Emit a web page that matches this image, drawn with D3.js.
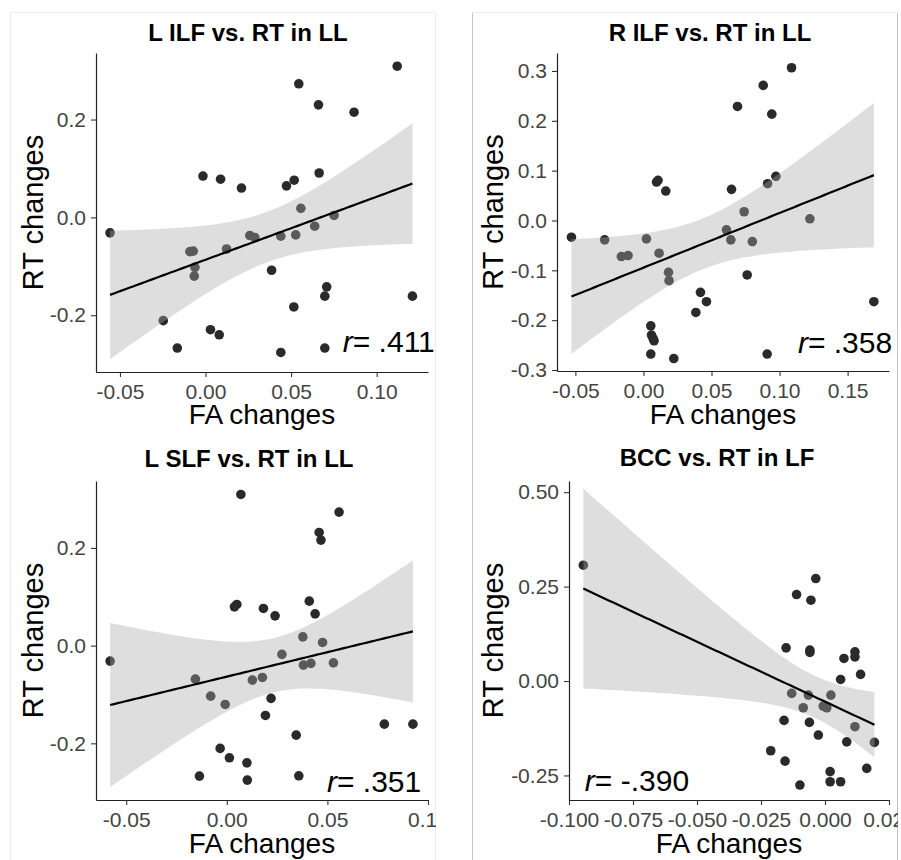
<!DOCTYPE html>
<html lang="en">
<head>
<meta charset="UTF-8">
<title>FA changes vs RT changes</title>
<script src="https://d3js.org/d3.v7.min.js"></script>
<style>
  body { margin: 0; background: #fff; }
  text { font-family: "Liberation Sans", Arial, Helvetica, sans-serif; }
</style>
</head>
<body>
<script>
// ---- data ----
var titles = ["L ILF vs. RT in LL", "R ILF vs. RT in LL", "L SLF vs. RT in LL", "BCC vs. RT in LF"];
var rLabels = ["= .411", "= .358", "= .351", "= -.390"];

// L ILF / LL
var tlFA = [0.112, 0.0545, 0.066, 0.0868, -0.0015, 0.0088, 0.021, 0.0473, 0.0518, 0.0664, 0.0557,
            0.0751, -0.0558, -0.0091, -0.0072, -0.0062, -0.0066, 0.0123, 0.0259, 0.0288, 0.044, 0.0527,
            0.0638, 0.0386, 0.0708, 0.0697, 0.1209, 0.0516, -0.0247, 0.0029, 0.008, -0.0165, 0.044, 0.0697];
var tlRT = [0.309, 0.273, 0.230, 0.215, 0.0845, 0.078, 0.060, 0.0645, 0.076, 0.0907, 0.0186,
            0.004, -0.0316, -0.070, -0.069, -0.102, -0.120, -0.0646, -0.037, -0.041, -0.0385, -0.0357,
            -0.018, -0.108, -0.142, -0.161, -0.161, -0.183, -0.211, -0.2296, -0.240, -0.267, -0.276, -0.267];

// R ILF / LL
var trFA = [0.1088, 0.0880, 0.0691, 0.0943, 0.0096, 0.0107, 0.0164, 0.0647, 0.0912, 0.0973, 0.074, 0.1223,
            -0.0529, -0.0285, -0.0162, -0.0113, 0.0022, 0.0115, 0.0184, 0.0188, 0.061, 0.0642, 0.080,
            0.0762, 0.0419, 0.0463, 0.0385, 0.1693, 0.0054, 0.0059, 0.0071, 0.0078, 0.0054, 0.0223, 0.0909];
var trRT = [0.3064, 0.271, 0.2288, 0.2133, 0.0771, 0.0805, 0.059, 0.0624, 0.0738, 0.0885, 0.0175, 0.0034,
            -0.0336, -0.0389, -0.0724, -0.0704, -0.0369, -0.0657, -0.104, -0.1207, -0.0188, -0.0389, -0.0423,
            -0.1093, -0.1442, -0.163, -0.1845, -0.163, -0.2113, -0.230, -0.2368, -0.2414, -0.268, -0.277, -0.268];

// L SLF / LL
var blFA = [0.0070, 0.0558, 0.0459, 0.0468, 0.0038, 0.0050, 0.0182, 0.024, 0.041, 0.0439, 0.0378, 0.0476,
            -0.058, -0.0156, -0.008, -0.0008, 0.0127, 0.0177, 0.0274, 0.0381, 0.0418, 0.053, 0.022,
            0.0192, 0.0345, 0.0783, 0.0925, -0.0033, 0.0013, 0.010, -0.0136, 0.0102, 0.0358];
var blRT = [0.3095, 0.2733, 0.2317, 0.216, 0.0794, 0.0843, 0.0761, 0.061, 0.0911, 0.0651, 0.018, 0.0065,
            -0.0317, -0.0686, -0.1034, -0.1204, -0.0706, -0.0651, -0.018, -0.040, -0.0364, -0.0352, -0.108,
            -0.1429, -0.1832, -0.1607, -0.1607, -0.2104, -0.2296, -0.240, -0.2671, -0.2753, -0.2665];

// BCC / LF
var brFA = [-0.0944, -0.0036, -0.0111, -0.0055, -0.0152, -0.0059, -0.0059, 0.0117, 0.0117, 0.0074, 0.0139,
            0.0061, -0.013, -0.0065, 0.0023, -0.0085, -0.0007, 0.0007, 0.0117, 0.0193, -0.016, -0.0061,
            -0.0026, 0.0085, -0.0212, -0.0156, 0.0163, 0.002, 0.002, 0.0061, -0.0098];
var brRT = [0.3066, 0.2714, 0.229, 0.214, 0.0878, 0.0817, 0.0757, 0.0772, 0.064, 0.0598, 0.0175,
            0.0042, -0.0328, -0.0373, -0.0373, -0.0708, -0.0664, -0.0708, -0.121, -0.1625, -0.1043, -0.1095,
            -0.143, -0.161, -0.1846, -0.212, -0.2313, -0.240, -0.2667, -0.2667, -0.2754];

// axis limits and ticks
var xLims = [[-0.064, 0.130], [-0.0635, 0.1804], [-0.065, 0.100], [-0.100, 0.025]];
var yLims = [[-0.316, 0.336], [-0.302, 0.336], [-0.316, 0.337], [-0.315, 0.5296]];
var xTicks = [[-0.05, 0, 0.05, 0.10], [-0.05, 0, 0.05, 0.10, 0.15], [-0.05, 0, 0.05, 0.10],
              [-0.100, -0.075, -0.050, -0.025, 0, 0.025]];
var xTickLabels = [["-0.05", "0.00", "0.05", "0.10"], ["-0.05", "0.00", "0.05", "0.10", "0.15"],
                   ["-0.05", "0.00", "0.05", "0.10"],
                   ["-0.100", "-0.075", "-0.050", "-0.025", "0.000", "0.025"]];
var yTicks = [[-0.2, 0, 0.2], [-0.3, -0.2, -0.1, 0, 0.1, 0.2, 0.3], [-0.2, 0, 0.2], [-0.25, 0, 0.25, 0.50]];
var yTickLabels = [["-0.2", "0.0", "0.2"], ["-0.3", "-0.2", "-0.1", "0.0", "0.1", "0.2", "0.3"],
                   ["-0.2", "0.0", "0.2"], ["-0.25", "0.00", "0.25", "0.50"]];
// where the r= text starts, in data units
var rPos = [[0.0802, -0.2757], [0.1135, -0.2656], [0.0498, -0.2993], [-0.0938, -0.2913]];

var faData = [tlFA, trFA, blFA, brFA];
var rtData = [tlRT, trRT, blRT, brRT];

// ---- layout (pixels) ----
var layout = [
  { L: 96,  T: 53,  R: 428, B: 372, box: [10, 0, 436, 432],   titleX: 248, titleY: 41,  yTitleX: 43,  xTitleY: 424, edge: "#ececec", top: 12 },
  { L: 557, T: 53,  R: 889, B: 371, box: [472, 0, 898, 432],  titleX: 710, titleY: 41,  yTitleX: 503, xTitleY: 424, edge: "#c4c4c4", top: 12 },
  { L: 96,  T: 481, R: 428, B: 800, box: [10, 432, 436, 860], titleX: 249, titleY: 467, yTitleX: 43,  xTitleY: 853, edge: "#ececec", top: null },
  { L: 569, T: 481, R: 889, B: 800, box: [472, 432, 898, 860], titleX: 717, titleY: 466, yTitleX: 503, xTitleY: 853, edge: "#c4c4c4", top: null }
];

var svg = d3.select("body").append("svg")
  .attr("width", 901)
  .attr("height", 860);

// t quantile (0.975) for small df
function tq(df) {
  var z = 1.959964;
  return z + (Math.pow(z, 3) + z) / (4 * df) +
    (5 * Math.pow(z, 5) + 16 * Math.pow(z, 3) + 3 * z) / (96 * df * df);
}

// linear fit with 95% confidence band, like geom_smooth(method = "lm")
function fitLm(xs, ys) {
  var n = xs.length;
  var mx = d3.mean(xs), my = d3.mean(ys);
  var sxx = 0, sxy = 0;
  for (var i = 0; i < n; i++) {
    sxx += (xs[i] - mx) * (xs[i] - mx);
    sxy += (xs[i] - mx) * (ys[i] - my);
  }
  var b = sxy / sxx, a = my - b * mx;
  var sse = 0;
  for (var j = 0; j < n; j++) {
    var e = ys[j] - (a + b * xs[j]);
    sse += e * e;
  }
  var s = Math.sqrt(sse / (n - 2));
  var t = tq(n - 2);
  var ext = d3.extent(xs);
  var grid = d3.range(80).map(function (k) { return ext[0] + (ext[1] - ext[0]) * k / 79; });
  return grid.map(function (x) {
    var yh = a + b * x;
    var se = s * Math.sqrt(1 / n + (x - mx) * (x - mx) / sxx);
    return { x: x, y: yh, lo: yh - t * se, hi: yh + t * se };
  });
}

layout.forEach(function (lay, p) {
  var box = lay.box;
  svg.append("clipPath").attr("id", "clip" + p)
    .append("rect")
    .attr("x", box[0]).attr("y", box[1])
    .attr("width", box[2] - box[0]).attr("height", box[3] - box[1]);

  // faint panel edges
  svg.append("line").attr("x1", box[0] + 0.5).attr("x2", box[0] + 0.5)
    .attr("y1", lay.top === null ? box[1] : lay.top).attr("y2", box[3])
    .attr("stroke", lay.edge);
  svg.append("line").attr("x1", box[2] - 0.5).attr("x2", box[2] - 0.5)
    .attr("y1", lay.top === null ? box[1] : lay.top).attr("y2", box[3])
    .attr("stroke", lay.edge);
  if (lay.top !== null) {
    svg.append("line").attr("x1", box[0]).attr("x2", box[2])
      .attr("y1", lay.top + 0.5).attr("y2", lay.top + 0.5)
      .attr("stroke", "#f0f0f0");
  }

  var g = svg.append("g").attr("clip-path", "url(#clip" + p + ")");

  var x = d3.scaleLinear().domain(xLims[p]).range([lay.L, lay.R]);
  var y = d3.scaleLinear().domain(yLims[p]).range([lay.B, lay.T]);

  var pts = faData[p].map(function (v, i) { return [v, rtData[p][i]]; });

  // points first, the band goes over them
  g.selectAll("circle.pt")
    .data(pts)
    .enter()
    .append("circle")
    .attr("class", "pt")
    .attr("cx", function (d) { return x(d[0]); })
    .attr("cy", function (d) { return y(d[1]); })
    .attr("r", 4.8)
    .attr("fill", "#2a2a2a");

  var fit = fitLm(faData[p], rtData[p]);

  g.append("path")
    .datum(fit)
    .attr("d", d3.area()
      .x(function (d) { return x(d.x); })
      .y0(function (d) { return y(d.lo); })
      .y1(function (d) { return y(d.hi); }))
    .attr("fill", "#a8a8a8")
    .attr("fill-opacity", 0.38);

  g.append("path")
    .datum(fit)
    .attr("d", d3.line()
      .x(function (d) { return x(d.x); })
      .y(function (d) { return y(d.y); }))
    .attr("fill", "none")
    .attr("stroke", "#000")
    .attr("stroke-width", 2.2);

  // axes
  var xAxis = d3.axisBottom(x)
    .tickValues(xTicks[p])
    .tickFormat(function (d, i) { return xTickLabels[p][i]; })
    .tickSize(5).tickSizeOuter(0).tickPadding(7);
  var yAxis = d3.axisLeft(y)
    .tickValues(yTicks[p])
    .tickFormat(function (d, i) { return yTickLabels[p][i]; })
    .tickSize(5).tickSizeOuter(0).tickPadding(5);

  var gx = g.append("g").attr("transform", "translate(0," + lay.B + ")").call(xAxis);
  var gy = g.append("g").attr("transform", "translate(" + lay.L + ",0)").call(yAxis);
  [gx, gy].forEach(function (ax) {
    ax.select(".domain").attr("stroke", "#222").attr("stroke-width", 1.2);
    ax.selectAll(".tick line").attr("stroke", "#333").attr("stroke-width", 1.1);
    ax.selectAll(".tick text")
      .attr("fill", "#444")
      .style("font-size", "21px");
  });

  // title
  g.append("text")
    .attr("x", lay.titleX).attr("y", lay.titleY)
    .attr("text-anchor", "middle")
    .style("font-size", "24px")
    .style("font-weight", "bold")
    .text(titles[p]);

  // axis titles
  g.append("text")
    .attr("x", (lay.L + lay.R) / 2).attr("y", lay.xTitleY)
    .attr("text-anchor", "middle")
    .style("font-size", "28px")
    .text("FA changes");

  g.append("text")
    .attr("transform", "translate(" + lay.yTitleX + "," + (lay.T + lay.B) / 2 + ") rotate(-90)")
    .attr("text-anchor", "middle")
    .style("font-size", "29px")
    .text("RT changes");

  // r annotation
  var rt = g.append("text")
    .attr("x", x(rPos[p][0])).attr("y", y(rPos[p][1]))
    .style("font-size", "30px");
  rt.append("tspan").style("font-style", "italic").text("r");
  rt.append("tspan").text(rLabels[p]);
});
</script>
</body>
</html>
